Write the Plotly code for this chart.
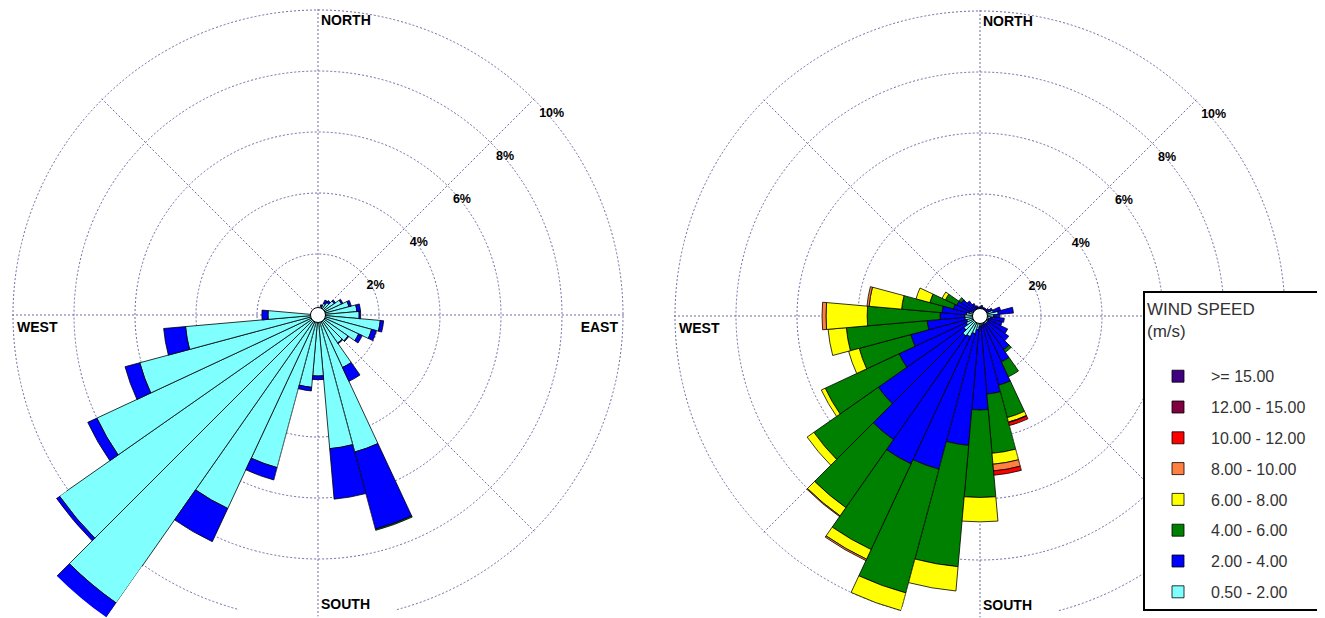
import math
import plotly.graph_objects as go

# ---------------- data (percent of time, per wind-speed class) ----------------
directions = list(range(0, 360, 10))

speed_classes = ["0.50 - 2.00", "2.00 - 4.00", "4.00 - 6.00", "6.00 - 8.00",
                 "8.00 - 10.00", "10.00 - 12.00", "12.00 - 15.00", ">= 15.00"]
class_colors = ["#80FFFF", "#0000FF", "#008000", "#FFFF00",
                "#FF8040", "#FF0000", "#800040", "#400080"]

# left rose
left_c1 = [0.15, 0.2, 0.3, 0.42, 0.5, 0.65, 0.85, 1.05, 1.28, 1.35, 2.05, 1.82,
           1.47, 1.2, 1.12, 1.9, 4.65, 4.4, 2.0, 2.38, 5.18, 7.0, 11.53, 10.35,
           8.0, 6.05, 4.36, 1.64, 0.2, 0.15, 0.15, 0.12, 0.12, 0.1, 0.1, 0.12]
left_c2 = [0, 0, 0.05, 0.12, 0.08, 0.05, 0.05, 0.08, 0.12, 0.05, 0.11, 0.16,
           0.13, 0.03, 0.03, 0.5, 2.62, 1.66, 0.12, 0.12, 0.42, 1.2, 0.77, 0.12,
           0.33, 0.5, 0.72, 0.2, 0, 0, 0, 0, 0, 0, 0, 0]
left_c3 = [0, 0, 0, 0, 0, 0, 0, 0, 0, 0, 0, 0,
           0, 0, 0, 0, 0.04, 0, 0, 0, 0, 0, 0, 0,
           0, 0, 0, 0, 0, 0, 0, 0, 0, 0, 0, 0]

# right rose
right_c1 = [0.15, 0.15, 0.15, 0.15, 0.15, 0.2, 0.3, 0.45, 0.6, 0.45, 0.35, 0.3,
            0.3, 0.3, 0.3, 0.3, 0.3, 0.3, 0.35, 0.45, 0.6, 0.75, 0.8, 0.65,
            0.5, 0.45, 0.5, 0.5, 0.45, 0.35, 0.3, 0.25, 0.2, 0.2, 0.15, 0.15]
right_c2 = [0.15, 0.2, 0.15, 0.15, 0.15, 0.15, 0.15, 0.25, 0.5, 0.2, 0.45, 0.45,
            0.7, 0.85, 1.05, 1.36, 2.05, 2.27, 2.73, 3.81, 4.6, 4.6, 4.15, 3.42,
            2.43, 1.9, 1.24, 0.81, 0.8, 0.55, 0.54, 0.5, 0.4, 0.25, 0.2, 0.15]
right_c3 = [0, 0, 0, 0, 0, 0, 0, 0, 0, 0, 0, 0,
            0, 0, 0.1, 0.54, 1.1, 1.95, 2.87, 3.99, 4.2, 3.1, 2.72, 2.58,
            2.67, 1.75, 2.66, 2.39, 1.33, 0.8, 0.41, 0.1, 0, 0, 0, 0]
right_c4 = [0, 0, 0, 0, 0, 0, 0, 0, 0, 0, 0, 0,
            0, 0, 0, 0, 0.15, 0.36, 0.8, 0.8, 0.6, 0.35, 0.33, 0.27,
            0.14, 0.36, 0.6, 1.35, 1.07, 0.47, 0.12, 0, 0, 0, 0, 0]
right_c5 = [0, 0, 0, 0, 0, 0, 0, 0, 0, 0, 0, 0,
            0, 0, 0, 0, 0.02, 0.22, 0, 0, 0, 0.05, 0.03, 0,
            0, 0, 0, 0.13, 0.07, 0, 0, 0, 0, 0, 0, 0]
right_c6 = [0, 0, 0, 0, 0, 0, 0, 0, 0, 0, 0, 0,
            0, 0, 0, 0, 0.1, 0.14, 0, 0, 0, 0, 0, 0,
            0, 0, 0, 0, 0, 0, 0, 0, 0, 0, 0, 0]
right_c7 = [0] * 36
right_c8 = [0] * 36

radial_ticks = [2, 4, 6, 8, 10]
radial_tick_labels = ["2%", "4%", "6%", "8%", "10%"]
cardinal_labels = ["NORTH", "EAST", "SOUTH", "WEST"]
spoke_dirs = [0, 45, 90, 135, 180, 225, 270, 315]
legend_title_lines = ["WIND SPEED", "(m/s)"]

left_series = [left_c1, left_c2, left_c3]
right_series = [right_c1, right_c2, right_c3, right_c4,
                right_c5, right_c6, right_c7, right_c8]

# ---------------- layout helpers ----------------
OFF = 8                       # page body margin
W, H = 1325 - OFF, 618 - OFF
K = 30.5                      # pixels per percent
FONT = "Liberation Sans, Arial, sans-serif"
GRID = "#6c6ca4"
GRIDDASH = "2px,2px"
SPOKES = sorted(set(spoke_dirs + [d - 360 for d in spoke_dirs] + [d + 360 for d in spoke_dirs]))
NBSP = "\u00a0"
legend_title = legend_title_lines[0] + NBSP * 14 + "<br>" + legend_title_lines[1] + "<br> "


def sector_bbox(s0, s1):
    arc = s1 - s0
    a0 = s0 % 360
    a1 = a0 + arc
    ax0, ay0 = math.cos(math.radians(a0)), math.sin(math.radians(a0))
    ax1, ay1 = math.cos(math.radians(a1)), math.sin(math.radians(a1))
    if (a0 <= 90 and a1 >= 90) or (a0 > 90 and a1 >= 450):
        y1 = 1
    elif ay0 <= 0 and ay1 <= 0:
        y1 = 0
    else:
        y1 = max(ay0, ay1)
    if (a0 <= 180 and a1 >= 180) or (a0 > 180 and a1 >= 540):
        x0 = -1
    elif ax0 >= 0 and ax1 >= 0:
        x0 = 0
    else:
        x0 = min(ax0, ax1)
    if (a0 <= 270 and a1 >= 270) or (a0 > 270 and a1 >= 630):
        y0 = -1
    elif ay0 >= 0 and ay1 >= 0:
        y0 = 0
    else:
        y0 = min(ay0, ay1)
    if (a0 <= 0 and a1 >= 0) or (a0 > 0 and a1 >= 360):
        x1 = 1
    elif ax0 <= 0 and ax1 <= 0:
        x1 = 0
    else:
        x1 = max(ax0, ax1)
    return x0, y0, x1, y1


def clamp(v):
    return min(1.0, max(0.0, v))


def polar_layout(cx, cy, rng, sector, grid=True, hole=0.0):
    cx, cy = cx - OFF, cy - OFF
    R = K * rng[1]
    x0, y0, x1, y1 = sector_bbox(*sector)
    left, right = cx + R * x0, cx + R * x1
    top, bottom = cy - R * y1, cy - R * y0
    dom = dict(x=[clamp(left / W), clamp(right / W)],
               y=[clamp(1 - bottom / H), clamp(1 - top / H)])
    return dict(
        domain=dom, sector=list(sector), hole=hole,
        bgcolor="rgba(0,0,0,0)", bargap=0, barmode="stack",
        radialaxis=dict(range=list(rng), autorange=False, tickvals=radial_ticks,
                        showticklabels=False, ticks="", showline=False,
                        showgrid=grid, gridcolor=GRID, gridwidth=1, griddash=GRIDDASH),
        angularaxis=dict(rotation=90, direction="clockwise", tickvals=SPOKES,
                         showticklabels=False, ticks="", showline=False,
                         showgrid=grid, gridcolor=GRID, gridwidth=1, griddash=GRIDDASH),
    )


def to_polar(dx, dy):
    r = math.hypot(dx, dy) / K
    th = math.degrees(math.atan2(dx, -dy)) % 360
    return r, th


fig = go.Figure()


def add_bars(series, subplot, show_legend):
    for i, vals in enumerate(series):
        fig.add_trace(go.Barpolar(
            r=vals, theta=directions, width=10,
            name=speed_classes[i], legendgroup=speed_classes[i],
            legendrank=1000 - i,
            showlegend=show_legend,
            marker=dict(color=class_colors[i], line=dict(color="black", width=0.8)),
            subplot=subplot, hoverinfo="skip"))


def add_labels(main_sp, south_sp):
    offs = {"NORTH": (3, -300.5, "bottom right"),
            "EAST": (300, 6.5, "bottom left"),
            "SOUTH": (3, 283.5, "bottom right"),
            "WEST": (-301, 6.2, "bottom right")}
    for lab in cardinal_labels:
        dx, dy, pos = offs[lab]
        r, th = to_polar(dx, dy)
        fig.add_trace(go.Scatterpolar(
            r=[r], theta=[th], mode="text", text=[lab], textposition=pos,
            textfont=dict(family=FONT, size=14, color="black", weight="bold"),
            subplot=south_sp if lab == "SOUTH" else main_sp,
            cliponaxis=False, showlegend=False, hoverinfo="skip"))
    rr, tt = [], []
    for t in radial_ticks:
        px = t * K * math.sqrt(0.5)
        r, th = to_polar(px + 5.5, -px + 8)
        rr.append(r)
        tt.append(th)
    fig.add_trace(go.Scatterpolar(
        r=rr, theta=tt, mode="text", text=radial_tick_labels,
        textposition="bottom right",
        textfont=dict(family=FONT, size=12.5, color="black", weight="bold"),
        subplot=main_sp, cliponaxis=False, showlegend=False, hoverinfo="skip"))


def add_center(subplot):
    fig.add_trace(go.Scatterpolar(
        r=[0], theta=[180], mode="markers",
        marker=dict(size=15, color="white", line=dict(color="black", width=1)),
        subplot=subplot, cliponaxis=False, showlegend=False, hoverinfo="skip"))


LCX, LCY = 318, 315
RCX, RCY = 980, 316
MAIN_SECTOR = (-75, 255)
SOUTH_SECTOR = (255, 285)
OVER_SECTOR = (215, 235)

# left rose: overflow annulus (drawn first, underneath), main, south wedge
add_bars(left_series, "polar", False)
add_bars(left_series, "polar2", False)
add_labels("polar2", "polar3")
add_bars(left_series, "polar3", False)
add_center("polar3")

# right rose: main, south wedge
add_bars(right_series, "polar4", True)
add_labels("polar4", "polar5")
add_bars(right_series, "polar5", False)
add_center("polar5")

fig.update_layout(
    width=W, height=H,
    margin=dict(l=0, r=0, t=0, b=0, pad=0),
    paper_bgcolor="white", plot_bgcolor="white",
    font=dict(family=FONT),
    polar=polar_layout(LCX, LCY, (10, 12.1), OVER_SECTOR, grid=False, hole=10 / 12.1),
    polar2=polar_layout(LCX, LCY, (0, 10.06), MAIN_SECTOR),
    polar3=polar_layout(LCX, LCY, (0, 9.88), SOUTH_SECTOR),
    polar4=polar_layout(RCX, RCY, (0, 10.06), MAIN_SECTOR),
    polar5=polar_layout(RCX, RCY, (0, 9.88), SOUTH_SECTOR),
    showlegend=True,
    legend=dict(
        x=1.0, xanchor="right", y=1 - (291 - OFF) / H, yanchor="top",
        bgcolor="white", bordercolor="black", borderwidth=2,
        font=dict(family=FONT, size=16, color="#333333"),
        title=dict(text=legend_title, font=dict(family=FONT, size=17, color="#333333")),
        traceorder="grouped", tracegroupgap=7, itemwidth=56,
    ),
)

fig.write_html("out.html")
